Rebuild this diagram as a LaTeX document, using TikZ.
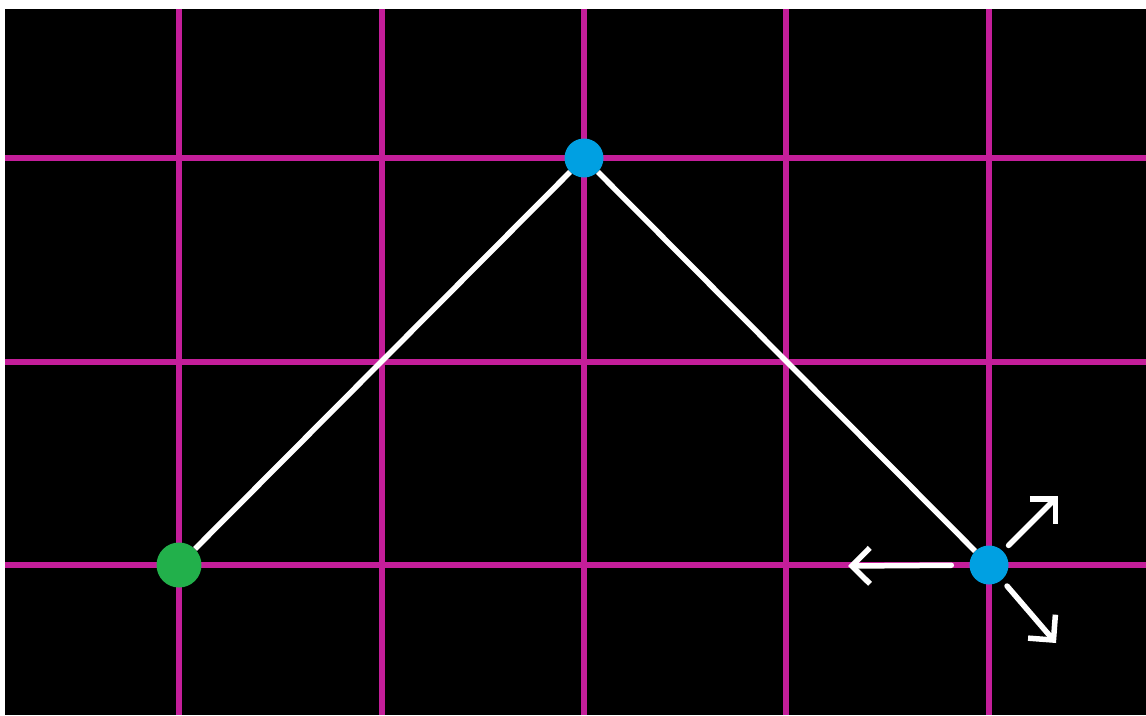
\documentclass[tikz,border=0pt]{standalone}
\usepackage{xcolor}
\usepackage{tikz}
\usetikzlibrary{arrows.meta}

\definecolor{gridpink}{RGB}{196,30,154}
\definecolor{dotblue}{RGB}{0,160,226}
\definecolor{dotgreen}{RGB}{34,176,75}

\begin{document}
\begin{tikzpicture}[x=1pt,y=-1pt,
       dot/.style={circle,inner sep=0pt,minimum size=39pt},
       edge/.style={white,line width=5.5pt},
       move/.style={white,line width=5.5pt,line cap=round,shorten <=8pt,
                    -{Straight Barb[length=18pt,width=36pt,line width=5.5pt]}}]
       \fill[white] (0,0) rectangle (1146,715);
       \fill[black] (5,9) rectangle (1146,715);
       \useasboundingbox (0,0) rectangle (1146,715);

       \foreach \x in {179,382,584,786,989}
           \draw[gridpink,line width=6pt] (\x,9) -- (\x,715);
       \foreach \y in {158,362,565}
           \draw[gridpink,line width=6pt] (5,\y) -- (1146,\y);

       \node[dot,fill=dotgreen,minimum width=45pt] (A) at (179,565) {};
       \node[dot,fill=dotblue] (B) at (584,158) {};
       \node[dot,fill=dotblue] (C) at (989,565) {};

       \coordinate (L) at (848,566);
       \coordinate (U) at (1058,496);
       \coordinate (D) at (1056,643);

       \draw[edge] (A) -- (B) -- (C);
       \draw[move,shorten <=18pt] (C) -- (L);
       \draw[move] (C) -- (U);
       \draw[move] (C) -- (D);
    \end{tikzpicture}
\end{document}
